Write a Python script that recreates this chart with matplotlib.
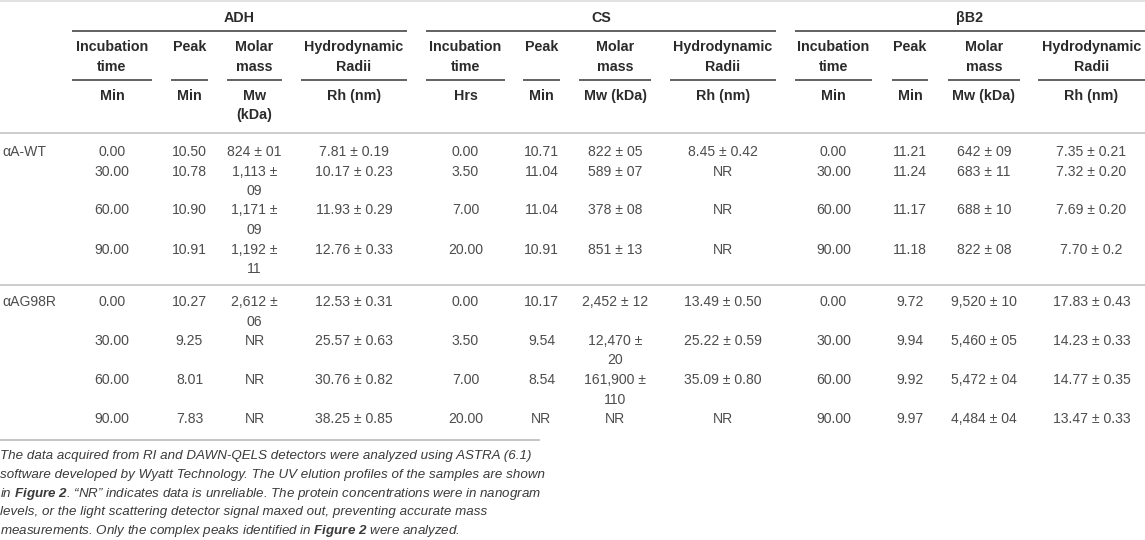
import matplotlib
matplotlib.use("Agg")
import matplotlib.pyplot as plt

plt.rcParams["mathtext.fontset"] = "custom"
plt.rcParams["mathtext.bf"] = "Liberation Sans:italic:bold"
plt.rcParams["mathtext.rm"] = "Liberation Sans:italic"
plt.rcParams["mathtext.it"] = "Liberation Sans:italic"

# ---------------- data ----------------
groups = ["ADH", "CS", "βB2"]
col_heads = ["Incubation\ntime", "Peak", "Molar\nmass", "Hydrodynamic\nRadii"]
units_adh = ["Min", "Min", "Mw\n(kDa)", "Rh (nm)"]
units_cs = ["Hrs", "Min", "Mw (kDa)", "Rh (nm)"]
units_bb2 = ["Min", "Min", "Mw (kDa)", "Rh (nm)"]
samples = ["αA-WT", "αAG98R"]

wt_adh_time = ["0.00", "30.00", "60.00", "90.00"]
wt_adh_peak = ["10.50", "10.78", "10.90", "10.91"]
wt_adh_mw = ["824 ± 01", "1,113 ±\n09", "1,171 ±\n09", "1,192 ±\n11"]
wt_adh_rh = ["7.81 ± 0.19", "10.17 ± 0.23", "11.93 ± 0.29", "12.76 ± 0.33"]
wt_cs_time = ["0.00", "3.50", "7.00", "20.00"]
wt_cs_peak = ["10.71", "11.04", "11.04", "10.91"]
wt_cs_mw = ["822 ± 05", "589 ± 07", "378 ± 08", "851 ± 13"]
wt_cs_rh = ["8.45 ± 0.42", "NR", "NR", "NR"]
wt_bb2_time = ["0.00", "30.00", "60.00", "90.00"]
wt_bb2_peak = ["11.21", "11.24", "11.17", "11.18"]
wt_bb2_mw = ["642 ± 09", "683 ± 11", "688 ± 10", "822 ± 08"]
wt_bb2_rh = ["7.35 ± 0.21", "7.32 ± 0.20", "7.69 ± 0.20", "7.70 ± 0.2"]

mt_adh_time = ["0.00", "30.00", "60.00", "90.00"]
mt_adh_peak = ["10.27", "9.25", "8.01", "7.83"]
mt_adh_mw = ["2,612 ±\n06", "NR", "NR", "NR"]
mt_adh_rh = ["12.53 ± 0.31", "25.57 ± 0.63", "30.76 ± 0.82", "38.25 ± 0.85"]
mt_cs_time = ["0.00", "3.50", "7.00", "20.00"]
mt_cs_peak = ["10.17", "9.54", "8.54", "NR"]
mt_cs_mw = ["2,452 ± 12", "12,470 ±\n20", "161,900 ±\n110", "NR"]
mt_cs_rh = ["13.49 ± 0.50", "25.22 ± 0.59", "35.09 ± 0.80", "NR"]
mt_bb2_time = ["0.00", "30.00", "60.00", "90.00"]
mt_bb2_peak = ["9.72", "9.94", "9.92", "9.97"]
mt_bb2_mw = ["9,520 ± 10", "5,460 ± 05", "5,472 ± 04", "4,484 ± 04"]
mt_bb2_rh = ["17.83 ± 0.43", "14.23 ± 0.33", "14.77 ± 0.35", "13.47 ± 0.33"]

caption_lines = [
    "The data acquired from RI and DAWN-QELS detectors were analyzed using ASTRA (6.1)",
    "software developed by Wyatt Technology. The UV elution profiles of the samples are shown",
    "in $\\bf{Figure\\ 2}$. \u201cNR\u201d indicates data is unreliable. The protein concentrations were in nanogram",
    "levels, or the light scattering detector signal maxed out, preventing accurate mass",
    "measurements. Only the complex peaks identified in $\\bf{Figure\\ 2}$ were analyzed.",
]

# ---------------- layout ----------------
W, H = 1145, 540
fig = plt.figure(figsize=(W / 100, H / 100), dpi=100)
ax = fig.add_axes([0, 0, 1, 1])
ax.set_xlim(0, W)
ax.set_ylim(H, 0)
ax.axis("off")

FONT = "Liberation Sans"
HEAD_C = "#2b2b2b"
DATA_C = "#4d4d4d"
HEAD_FS = 10.3
DATA_FS = 10.1
LINE_H = 19.5

group_spans = [(72, 407), (426, 776), (795, 1145)]
col_spans = [
    [(72, 152), (171, 208), (227, 282), (301, 407)],
    [(426, 505), (523, 560), (579, 651), (670, 776)],
    [(795, 872), (892, 928), (948, 1020), (1038, 1145)],
]
units_all = [units_adh, units_cs, units_bb2]


def hline(y, x0, x1, color, lw):
    ax.plot([x0, x1], [y, y], color=color, lw=lw, solid_capstyle="butt")


def cell(x, y, text, lh=LINE_H, **kw):
    for i, part in enumerate(text.split("\n")):
        ax.text(x, y + i * lh, part, ha=kw.get("ha", "center"), va="center",
                family=FONT, fontsize=kw.get("fs", DATA_FS),
                color=kw.get("color", DATA_C), weight=kw.get("weight", "normal"))


# top faint rule
hline(1, 0, W, "#dddddd", 1.2)

for g, name in enumerate(groups):
    gx0, gx1 = group_spans[g]
    cell((gx0 + gx1) / 2, 18, name, fs=HEAD_FS, color=HEAD_C, weight="bold")
    hline(31, gx0, gx1, "#555555", 1.3)
    for c in range(4):
        cx0, cx1 = col_spans[g][c]
        cx = (cx0 + cx1) / 2
        cell(cx, 47, col_heads[c], lh=20, fs=HEAD_FS, color=HEAD_C, weight="bold")
        hline(80, cx0, cx1, "#555555", 1.3)
        cell(cx, 96, units_all[g][c], lh=19, fs=HEAD_FS, color=HEAD_C, weight="bold")

hline(133, 0, W, "#cccccc", 1.4)

blocks = [
    (samples[0], [[wt_adh_time, wt_adh_peak, wt_adh_mw, wt_adh_rh],
                  [wt_cs_time, wt_cs_peak, wt_cs_mw, wt_cs_rh],
                  [wt_bb2_time, wt_bb2_peak, wt_bb2_mw, wt_bb2_rh]], 152),
    (samples[1], [[mt_adh_time, mt_adh_peak, mt_adh_mw, mt_adh_rh],
                  [mt_cs_time, mt_cs_peak, mt_cs_mw, mt_cs_rh],
                  [mt_bb2_time, mt_bb2_peak, mt_bb2_mw, mt_bb2_rh]], 302),
]

for label, grp_cols, y0 in blocks:
    cell(2, y0, label, ha="left")
    y = y0
    for r in range(4):
        nlines = 1
        for g in range(3):
            for c in range(4):
                txt = grp_cols[g][c][r]
                cx0, cx1 = col_spans[g][c]
                cell((cx0 + cx1) / 2, y, txt)
                nlines = max(nlines, txt.count("\n") + 1)
        y += nlines * LINE_H

hline(285, 0, W, "#cccccc", 1.4)
hline(440, 0, 540, "#bbbbbb", 1.2)

for i, line in enumerate(caption_lines):
    ax.text(0, 456 + i * 18.8, line, ha="left", va="center", family=FONT,
            style="italic", fontsize=9.6, color="#3a3a3a")

fig.savefig("out.png", dpi=100)
